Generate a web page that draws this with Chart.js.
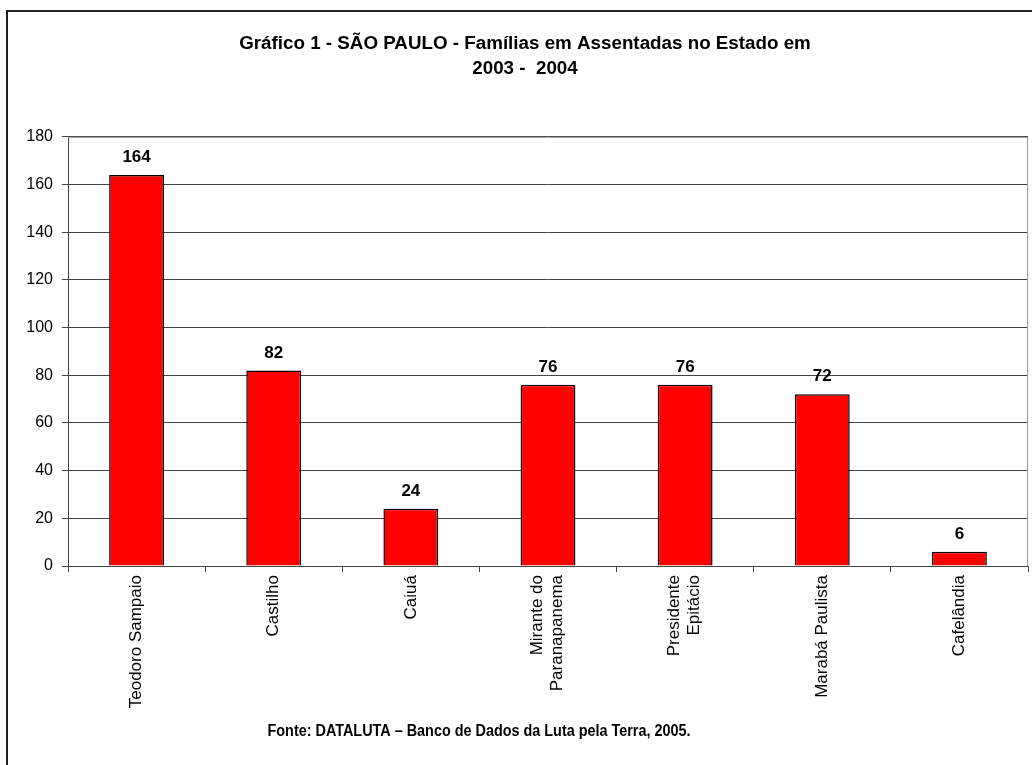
<!DOCTYPE html>
<html>
<head>
<meta charset="utf-8">
<script src="https://cdn.jsdelivr.net/npm/chart.js@4"></script>
<style>
  html, body { margin: 0; padding: 0; background: #fff; overflow: hidden; }
  #wrap { width: 1032px; height: 765px; position: relative; }
</style>
</head>
<body>
<div id="wrap"><canvas id="myChart" width="1032" height="765"></canvas></div>
<script>
const municipios = [
  'Teodoro Sampaio',
  'Castilho',
  'Caiuá',
  ['Mirante do', 'Paranapanema'],
  ['Presidente', 'Epitácio'],
  'Marabá Paulista',
  'Cafelândia'
];
const familias = [164, 82, 24, 76, 76, 72, 6];
const yTicks = [0, 20, 40, 60, 80, 100, 120, 140, 160, 180];
const tituloLinhas = ['Gráfico 1 - SÃO PAULO - Famílias em Assentadas no Estado em', '2003 -  2004'];
const fonte = 'Fonte: DATALUTA – Banco de Dados da Luta pela Terra, 2005.';

const FONT = "'Liberation Sans', Arial, sans-serif";

// moldura externa + borda da area do grafico
const framePlugin = {
  id: 'frame',
  beforeDraw(chart) {
    const c = chart.ctx;
    c.save();
    c.fillStyle = '#fff';
    c.fillRect(0, 0, chart.width, chart.height);
    c.strokeStyle = '#222';
    c.lineWidth = 2;
    c.strokeRect(7, 11, 1200, 1200);
    c.restore();
    // centraliza os rotulos de duas linhas no tick
    chart.scales.x.getLabelItems().forEach(item => {
      if (Array.isArray(item.label) && !item._shifted) {
        item.options.translation[0] -= 11;
        item._shifted = true;
      }
    });
  },
  beforeDatasetsDraw(chart) {
    const a = chart.chartArea;
    const c = chart.ctx;
    c.save();
    c.strokeStyle = '#999';
    c.lineWidth = 1;
    c.beginPath();
    c.moveTo(a.left, a.top + 0.5);
    c.lineTo(a.right - 0.5, a.top + 0.5);
    c.lineTo(a.right - 0.5, a.bottom);
    c.stroke();
    c.restore();
  },
  afterDraw(chart) {
    const c = chart.ctx;
    c.save();
    // rotulos dos valores
    c.font = 'bold 17px ' + FONT;
    c.fillStyle = '#000';
    c.textAlign = 'center';
    c.textBaseline = 'alphabetic';
    chart.getDatasetMeta(0).data.forEach((bar, i) => {
      c.fillText(String(familias[i]), bar.x, bar.y - 13);
    });
    // fonte (letra condensada)
    c.font = 'bold 16px ' + FONT;
    c.textBaseline = 'middle';
    c.translate(479, 732);
    c.scale(0.9, 1);
    c.fillText(fonte, 0, 0);
    c.restore();
  }
};

new Chart(document.getElementById('myChart'), {
  type: 'bar',
  data: {
    labels: municipios,
    datasets: [{
      data: familias,
      backgroundColor: '#ff0000',
      borderColor: '#000',
      borderWidth: 1.5,
      categoryPercentage: 1,
      barPercentage: 0.4
    }]
  },
  options: {
    responsive: false,
    animation: false,
    layout: { padding: { left: 22, right: 4, top: 20, bottom: 0 } },
    plugins: {
      legend: { display: false },
      tooltip: { enabled: false },
      title: {
        display: true,
        text: tituloLinhas,
        color: '#000',
        font: { family: FONT, size: 18.8, weight: 'bold', lineHeight: 1.3 },
        padding: { top: 12, bottom: 56 }
      }
    },
    scales: {
      x: {
        grid: {
          offset: true,
          drawOnChartArea: false,
          color: '#444',
          tickLength: 6
        },
        border: { color: '#444', width: 1 },
        ticks: {
          minRotation: 90,
          maxRotation: 90,
          padding: 3,
          color: '#000',
          font: { family: FONT, size: 17 }
        },
        afterFit(scale) { scale.height = 199; }
      },
      y: {
        min: 0,
        max: 180,
        afterBuildTicks(scale) { scale.ticks = yTicks.map(v => ({ value: v })); },
        grid: { color: '#444', tickLength: 6 },
        border: { color: '#444', width: 1 },
        ticks: {
          padding: 9,
          color: '#000',
          font: { family: FONT, size: 16 }
        },
        afterFit(scale) { scale.width = 46; }
      }
    }
  },
  plugins: [framePlugin]
});
</script>
</body>
</html>
